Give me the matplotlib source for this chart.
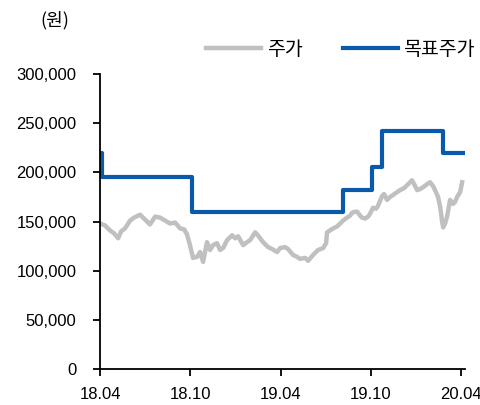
import matplotlib
matplotlib.use("Agg")
import matplotlib.pyplot as plt
from matplotlib.ticker import FuncFormatter

plt.rcParams['font.family'] = ['Liberation Sans', 'Noto Sans CJK KR', 'DejaVu Sans']

# 월 단위 위치 (0 = 18.04)
price_month = [0.0, 0.33, 0.66, 0.93, 1.2, 1.4, 1.66, 2.0, 2.26, 2.66, 2.99, 3.32, 3.66,
               3.99, 4.32, 4.65, 4.99, 5.32, 5.59, 5.78, 5.98, 6.18, 6.45, 6.65, 6.85,
               7.11, 7.31, 7.51, 7.78, 7.98, 8.18, 8.44, 8.78, 8.98, 9.18, 9.51, 9.77,
               9.97, 10.31, 10.44, 10.84, 11.17, 11.44, 11.77, 11.97, 12.3, 12.5, 12.83,
               13.1, 13.3, 13.63, 13.83, 14.16, 14.49, 14.83, 15.03, 15.09, 15.29, 15.49,
               15.76, 15.96, 16.16, 16.42, 16.62, 16.76, 16.95, 17.09, 17.29, 17.42,
               17.62, 17.82, 17.95, 18.15, 18.35, 18.48, 18.75, 18.88, 19.08, 19.28,
               19.48, 19.75, 19.95, 20.21, 20.41, 20.61, 20.74, 20.88, 21.08, 21.28,
               21.48, 21.74, 21.94, 22.14, 22.27, 22.47, 22.61, 22.74, 22.81, 22.94,
               23.07, 23.27, 23.47, 23.6, 23.74, 23.94, 24.07]
price = [148000, 146000, 141000, 138000, 133000, 140000, 143000, 151000, 154000, 157000,
         152000, 147000, 155000, 154000, 151000, 148000, 149000, 143000, 142000, 137000,
         126000, 113000, 114000, 119000, 109000, 129000, 121000, 126000, 128000, 121000,
         123000, 131000, 136000, 133000, 135000, 126000, 129000, 131000, 139000, 137000,
         129000, 124000, 122000, 119000, 123000, 124000, 122000, 116000, 114000, 112000,
         113000, 110000, 116000, 121000, 123000, 128000, 139000, 141000, 143000, 145000,
         148000, 151000, 154000, 156000, 159000, 160000, 160000, 156000, 154000, 153000,
         155000, 158000, 164000, 163000, 166000, 176000, 178000, 172000, 175000, 177000,
         180000, 182000, 184000, 187000, 190000, 192000, 188000, 182000, 183000, 185000,
         188000, 190000, 186000, 182000, 175000, 165000, 150000, 144000, 148000, 155000,
         172000, 168000, 170000, 175000, 180000, 190000]

target_month = [0.0, 0.13, 6.1, 16.15, 18.1, 18.75, 22.8, 24.1]
target = [220000, 195000, 160000, 182000, 205000, 242000, 220000, 220000]

xtick_pos = [0, 6, 12, 18, 24]
xtick_labels = ['18.04', '18.10', '19.04', '19.10', '20.04']

fig = plt.figure(figsize=(4.81, 4.05), dpi=100)
ax = fig.add_axes([0.208, 0.089, 0.759, 0.728])

ax.plot(price_month, price, color='#c0c0c0', lw=3.2, label='주가', solid_joinstyle='round')
ax.plot(target_month, target, color='#0a5aab', lw=3.0, drawstyle='steps-post', label='목표주가')

ax.set_xlim(0, 24.27)
ax.set_ylim(0, 300000)
ax.set_yticks(range(0, 300001, 50000))
ax.yaxis.set_major_formatter(FuncFormatter(lambda v, p: f'{int(v):,}'))
ax.set_xticks(xtick_pos)
ax.set_xticklabels(xtick_labels)

for s in ['top', 'right']:
    ax.spines[s].set_visible(False)
for s in ['left', 'bottom']:
    ax.spines[s].set_linewidth(1.3)
ax.tick_params(axis='both', direction='out', length=5, width=1.3, labelsize=12)
ax.tick_params(axis='y', pad=12)
ax.tick_params(axis='x', pad=8)

fig.text(0.083, 0.95, '(원)', fontsize=13, family=['Noto Sans CJK KR', 'DejaVu Sans'],
         va='center')

leg = ax.legend(loc='center right', bbox_to_anchor=(1.075, 1.085), ncol=2, frameon=False,
                handlelength=2.8, handletextpad=0.3, columnspacing=2.1,
                prop={'family': 'Noto Sans CJK KR', 'size': 14})

fig.savefig('out.png', dpi=100)
